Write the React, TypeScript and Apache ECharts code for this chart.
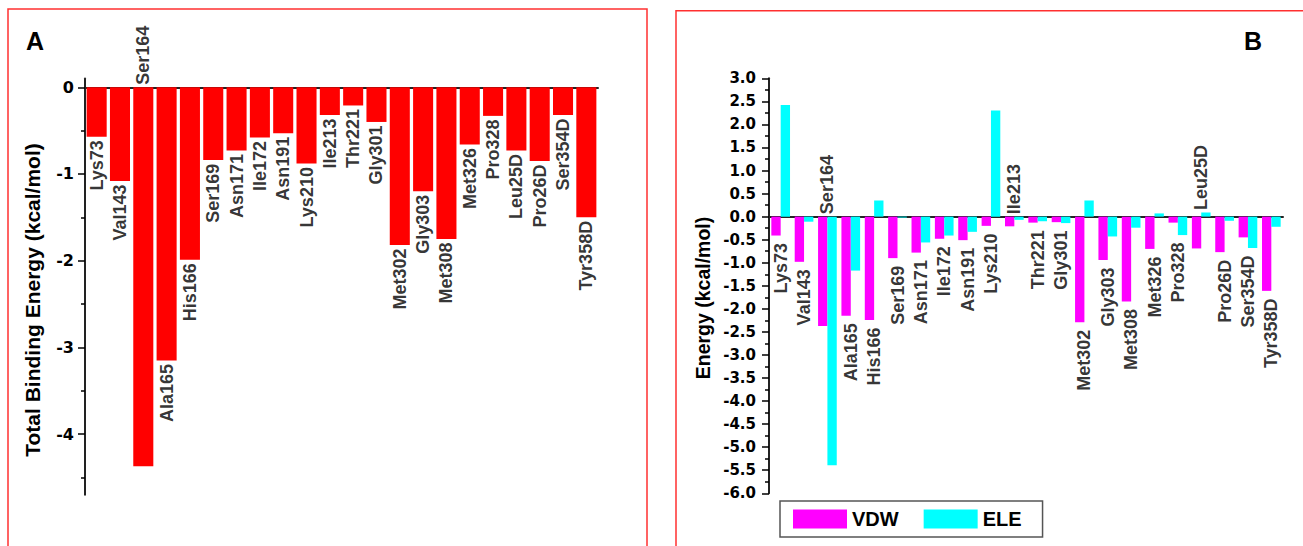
import React, { useEffect, useRef } from 'react';
import * as echarts from 'echarts';

// Residues along the x axis of both panels
const residues = [
  'Lys73', 'Val143', 'Ser164', 'Ala165', 'His166', 'Ser169', 'Asn171', 'Ile172',
  'Asn191', 'Lys210', 'Ile213', 'Thr221', 'Gly301', 'Met302', 'Gly303', 'Met308',
  'Met326', 'Pro328', 'Leu25D', 'Pro26D', 'Ser354D', 'Tyr358D',
];

// Panel A: total binding energy per residue (kcal/mol)
const totalBinding = [
  -0.57, -1.08, -4.37, -3.15, -1.99, -0.84, -0.73, -0.58, -0.53, -0.88, -0.32,
  -0.21, -0.40, -1.82, -1.20, -1.75, -0.66, -0.33, -0.73, -0.85, -0.32, -1.50,
];

// Panel B: van der Waals and electrostatic contributions (kcal/mol)
const vdw = [
  -0.41, -0.98, -2.37, -2.15, -2.24, -0.90, -0.78, -0.48, -0.51, -0.20, -0.21,
  -0.13, -0.12, -2.29, -0.94, -1.84, -0.70, -0.13, -0.69, -0.77, -0.45, -1.61,
];
const ele = [
  2.42, -0.11, -5.39, -1.17, 0.35, -0.02, -0.56, -0.41, -0.33, 2.30, -0.07,
  -0.10, -0.14, 0.35, -0.43, -0.24, 0.07, -0.40, 0.09, -0.09, -0.68, -0.22,
];

const seriesNames = ['VDW', 'ELE'];
const titleA = 'Total Binding Energy (kcal/mol)';
const titleB = 'Energy (kcal/mol)';

// Residue names written above the zero line instead of under the bars
const labelsAboveA = ['Ser164'];
const labelsAboveB = ['Ser164', 'Ile213', 'Leu25D'];

// Panel A y-axis ticks
const majorTicksA = [0, -1, -2, -3, -4];
const minorTicksA = [-0.5, -1.5, -2.5, -3.5, -4.5];

const SANS = "'Liberation Sans', Arial, sans-serif";
const TICK_FONT = "'DejaVu Sans', sans-serif";
const AXIS_COLOR = '#222';
const FRAME_COLOR = '#ff3030';

export default function App() {
  const ref = useRef<HTMLDivElement>(null);

  useEffect(() => {
    const chart = echarts.init(ref.current!, null, { renderer: 'svg' });

    const nameLabel = {
      show: true,
      rotate: 90,
      verticalAlign: 'middle',
      fontFamily: SANS,
      fontWeight: 'bold',
      fontSize: 18,
      color: '#000',
      formatter: (p: any) => p.name,
    };

    const labelPoints = (above: string[], low: (i: number) => number, high: (i: number) => number, gapBelow: number) =>
      residues.map((name, i) => {
        const up = above.includes(name);
        return {
          name,
          value: [i, up ? high(i) : low(i)],
          label: up
            ? { position: 'top', align: 'left', distance: 2 }
            : { position: 'bottom', align: 'right', distance: gapBelow },
        };
      });

    const pointsA = labelPoints(labelsAboveA, (i) => totalBinding[i], () => 0, 3);
    const pointsB = labelPoints(
      labelsAboveB,
      (i) => Math.min(vdw[i], ele[i], 0),
      (i) => Math.max(vdw[i], ele[i], 0),
      7,
    );

    const tickStyle = { color: '#000', width: 1.5 };

    const centreAxis = (gridIndex: number, yIndex: number) => ({
      type: 'category',
      gridIndex,
      data: residues,
      axisLine: { onZero: true, onZeroAxisIndex: yIndex, lineStyle: { color: AXIS_COLOR, width: 2 } },
      axisTick: { alignWithLabel: true, interval: 0, length: 7, lineStyle: tickStyle },
      axisLabel: { show: false, interval: 0 },
      splitLine: { show: false },
    });
    const boundaryAxis = (gridIndex: number, yIndex: number) => ({
      type: 'category',
      gridIndex,
      position: 'bottom',
      data: residues,
      axisLine: { show: false, onZero: true, onZeroAxisIndex: yIndex },
      axisTick: { alignWithLabel: false, interval: 0, length: 4, lineStyle: tickStyle },
      axisLabel: { show: false, interval: 0 },
      splitLine: { show: false },
    });

    const titleText = (text: string, x: number, y: number, fontSize: number) => ({
      type: 'text',
      silent: true,
      x,
      y,
      rotation: Math.PI / 2,
      style: {
        text,
        fontFamily: SANS,
        fontWeight: 'bold',
        fontSize,
        fill: '#000',
        align: 'center',
        verticalAlign: 'middle',
      },
    });

    const panelLetter = (text: string, x: number, y: number) => ({
      type: 'text',
      silent: true,
      x,
      y,
      style: {
        text,
        fontFamily: SANS,
        fontWeight: 'bold',
        fontSize: 25,
        fill: '#000',
        align: 'center',
        verticalAlign: 'middle',
      },
    });

    chart.setOption({
      animation: false,
      backgroundColor: '#fff',
      grid: [
        { left: 85, right: 705, top: 78.6, bottom: 51.2 },
        { left: 769, right: 20, top: 78.3, bottom: 52.7 },
      ],
      xAxis: [centreAxis(0, 0), boundaryAxis(0, 0), centreAxis(1, 2), boundaryAxis(1, 2)],
      yAxis: [
        {
          type: 'value',
          gridIndex: 0,
          position: 'left',
          min: -4.7,
          max: 0.1,
          axisLine: { show: true, onZero: false, lineStyle: { color: AXIS_COLOR, width: 2 } },
          axisTick: { show: true, length: 7, customValues: majorTicksA, lineStyle: tickStyle },
          axisLabel: {
            customValues: majorTicksA,
            fontFamily: TICK_FONT,
            fontWeight: 'bold',
            fontSize: 16,
            color: '#000',
            margin: 11,
          },
          splitLine: { show: false },
        },
        {
          type: 'value',
          gridIndex: 0,
          position: 'left',
          offset: 0,
          min: -4.7,
          max: 0.1,
          axisLine: { show: false, onZero: false },
          axisTick: { show: true, length: 4, customValues: minorTicksA, lineStyle: tickStyle },
          axisLabel: { show: false },
          splitLine: { show: false },
        },
        {
          type: 'value',
          gridIndex: 1,
          position: 'left',
          min: -6,
          max: 3,
          interval: 0.5,
          axisLine: { show: true, onZero: false, lineStyle: { color: AXIS_COLOR, width: 2 } },
          axisTick: { show: true, length: 7, lineStyle: tickStyle },
          minorTick: { show: true, splitNumber: 2, length: 4, lineStyle: tickStyle },
          axisLabel: {
            formatter: (v: number) => v.toFixed(1),
            fontFamily: TICK_FONT,
            fontWeight: 'bold',
            fontSize: 15,
            color: '#000',
            margin: 13,
          },
          splitLine: { show: false },
          minorSplitLine: { show: false },
        },
      ],
      legend: {
        data: seriesNames,
        left: 780,
        top: 501,
        orient: 'horizontal',
        icon: 'rect',
        itemWidth: 54,
        itemHeight: 19,
        itemGap: 25,
        padding: [8, 21, 8, 13],
        borderColor: '#555',
        borderWidth: 1.5,
        selectedMode: false,
        textStyle: { fontFamily: SANS, fontWeight: 'bold', fontSize: 20, color: '#000', lineHeight: 19 },
      },
      series: [
        {
          type: 'bar',
          name: 'Total',
          xAxisIndex: 0,
          yAxisIndex: 0,
          data: totalBinding,
          barCategoryGap: '14%',
          itemStyle: { color: '#ff0000' },
          silent: true,
        },
        {
          type: 'scatter',
          xAxisIndex: 0,
          yAxisIndex: 0,
          data: pointsA,
          symbolSize: 1,
          itemStyle: { color: 'rgba(0,0,0,0)' },
          label: nameLabel,
          silent: true,
        },
        {
          type: 'bar',
          name: seriesNames[0],
          xAxisIndex: 2,
          yAxisIndex: 2,
          data: vdw,
          barGap: '0%',
          barCategoryGap: '20%',
          itemStyle: { color: '#ff00ff' },
          silent: true,
        },
        {
          type: 'bar',
          name: seriesNames[1],
          xAxisIndex: 2,
          yAxisIndex: 2,
          data: ele,
          barGap: '0%',
          barCategoryGap: '20%',
          itemStyle: { color: '#00ffff' },
          silent: true,
        },
        {
          type: 'scatter',
          xAxisIndex: 2,
          yAxisIndex: 2,
          data: pointsB,
          symbolSize: 1,
          itemStyle: { color: 'rgba(0,0,0,0)' },
          label: nameLabel,
          silent: true,
        },
      ],
      graphic: [
        {
          type: 'rect',
          silent: true,
          shape: { x: 8, y: 9, width: 639, height: 600 },
          style: { fill: 'none', stroke: FRAME_COLOR, lineWidth: 1.5 },
        },
        {
          type: 'rect',
          silent: true,
          shape: { x: 676, y: 10.7, width: 700, height: 600 },
          style: { fill: 'none', stroke: FRAME_COLOR, lineWidth: 1.5 },
        },
        titleText(titleA, 32, 300, 21),
        titleText(titleB, 702.5, 298, 19.5),
        panelLetter('A', 35, 41),
        panelLetter('B', 1253, 41),
      ],
    });

    return () => chart.dispose();
  }, []);

  return (
    <div
      ref={ref}
      style={{ position: 'fixed', left: 0, top: 0, width: 1303, height: 546, background: '#fff' }}
    />
  );
}
